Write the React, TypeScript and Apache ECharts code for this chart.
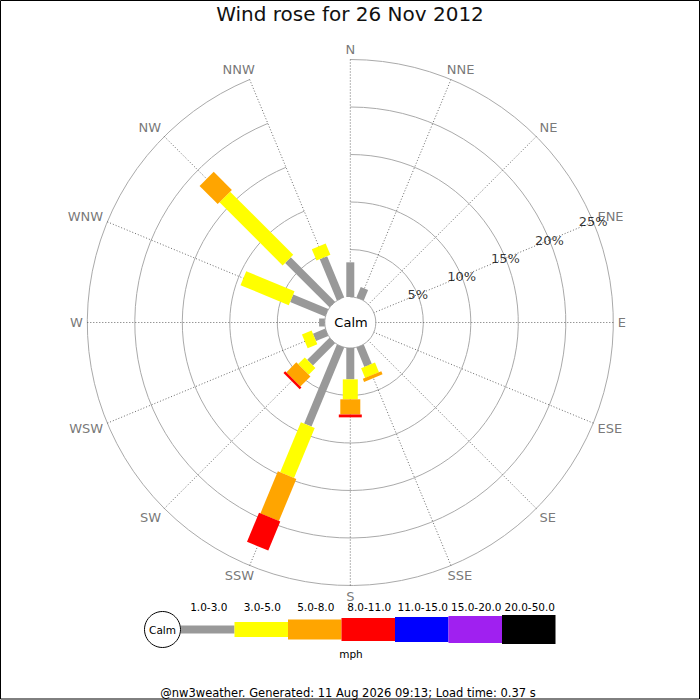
import React, { useEffect, useRef } from 'react';
import * as echarts from 'echarts';

// compass points, clockwise from north
const directions = ['N', 'NNE', 'NE', 'ENE', 'E', 'ESE', 'SE', 'SSE', 'S', 'SSW', 'SW', 'WSW', 'W', 'WNW', 'NW', 'NNW'];

// speed bins (mph)
const speedBins = ['1.0-3.0', '3.0-5.0', '5.0-8.0', '8.0-11.0', '11.0-15.0', '15.0-20.0', '20.0-50.0'];

// % of time per direction, one array per speed bin
const speed1to3 = [3.65, 1.2, 0, 0, 0, 0, 0, 2.2, 3.3, 9.0, 3.3, 1.4, 0.6, 4.0, 6.6, 4.7];
const speed3to5 = [0, 0, 0, 0, 0, 0, 0, 1.1, 2.1, 5.7, 1.0, 1.1, 0, 5.5, 9.4, 1.3];
const speed5to8 = [0, 0, 0, 0, 0, 0, 0, 0.35, 1.6, 4.8, 1.5, 0, 0, 0, 2.7, 0];
const speed8to11 = [0, 0, 0, 0, 0, 0, 0, 0, 0.3, 3.3, 0.25, 0, 0, 0, 0, 0];
const speed11to15 = [0, 0, 0, 0, 0, 0, 0, 0, 0, 0, 0, 0, 0, 0, 0, 0];
const speed15to20 = [0, 0, 0, 0, 0, 0, 0, 0, 0, 0, 0, 0, 0, 0, 0, 0];
const speed20to50 = [0, 0, 0, 0, 0, 0, 0, 0, 0, 0, 0, 0, 0, 0, 0, 0];

const ringTicks = [5, 10, 15, 20, 25];
const ringLabelDir = 'ENE';

const binValues = [speed1to3, speed3to5, speed5to8, speed8to11, speed11to15, speed15to20, speed20to50];
const binColors = ['#999999', '#ffff00', '#ffa500', '#ff0000', '#0000ff', '#a020f0', '#000000'];
const binWidths = [8, 15, 20, 23, 25, 27, 29];

const FONT = 'DejaVu Sans';
const DIR_FONT = 13;

// width of a text in px, for placing the compass labels outside the ring
const textWidth = (text: string, size: number) => {
    const ctx = document.createElement('canvas').getContext('2d');
    if (!ctx) return text.length * size * 0.65;
    ctx.font = `${size}px "${FONT}"`;
    return ctx.measureText(text).width;
};

const clamp1 = (t: number) => Math.max(-1, Math.min(1, t));

const App: React.FC = () => {
    const chartRef = useRef<HTMLDivElement>(null);

    useEffect(() => {
        if (!chartRef.current) return;
        const myChart = echarts.init(chartRef.current, null, { renderer: 'svg' });

        // cumulative start of each bin per direction
        const cum = directions.map(() => 0);
        const barSeries = binValues.map((vals, b) => {
            const data: number[][] = [];
            vals.forEach((v, d) => {
                if (v > 0) data.push([cum[d], d, cum[d] + v]);
                cum[d] += v;
            });
            const w = binWidths[b];
            return {
                type: 'custom',
                name: speedBins[b],
                coordinateSystem: 'polar',
                data,
                renderItem: (params: any, api: any) => {
                    const start = api.value(0);
                    const dir = api.value(1);
                    const end = api.value(2);
                    const cs = params.coordSys;
                    const p0 = api.coord([start, dir]);
                    const p1 = api.coord([end, dir]);
                    let ux = p1[0] - cs.cx;
                    let uy = p1[1] - cs.cy;
                    const len = Math.hypot(ux, uy) || 1;
                    ux /= len;
                    uy /= len;
                    const nx = (-uy * w) / 2;
                    const ny = (ux * w) / 2;
                    return {
                        type: 'polygon',
                        shape: {
                            points: [
                                [p0[0] + nx, p0[1] + ny],
                                [p1[0] + nx, p1[1] + ny],
                                [p1[0] - nx, p1[1] - ny],
                                [p0[0] - nx, p0[1] - ny],
                            ],
                        },
                        style: { fill: binColors[b], stroke: null },
                    };
                },
            };
        });

        // compass labels: sit just outside the outer ring, pushed out by their own size
        const dirLabelData = directions.map((name, i) => {
            const a = (i * 2 * Math.PI) / directions.length;
            const ux = Math.sin(a);
            const uy = -Math.cos(a);
            const hw = textWidth(name, DIR_FONT) / 2;
            const hh = 6;
            return {
                value: [25, i],
                label: {
                    offset: [4.5 * ux + hw * clamp1(1.5 * ux), 4.5 * uy + hh * clamp1(1.5 * uy)],
                },
            };
        });

        // legend along the bottom
        const legendX0 = 181;
        const legendStep = 53.5;
        const legendY = 629.5;
        const legend: any[] = [
            {
                type: 'circle',
                shape: { cx: 162.5, cy: legendY, r: 18 },
                style: { fill: '#fff', stroke: '#000', lineWidth: 1 },
                z: 10,
            },
            {
                type: 'text',
                x: 162.5,
                y: legendY,
                style: { text: 'Calm', align: 'center', verticalAlign: 'middle', fontSize: 10.5, fontFamily: FONT, fill: '#000' },
                z: 11,
            },
            {
                type: 'text',
                x: 351,
                y: 654,
                style: { text: 'mph', align: 'center', verticalAlign: 'middle', fontSize: 10.5, fontFamily: FONT, fill: '#000' },
            },
        ];
        speedBins.forEach((label, i) => {
            const h = binWidths[i];
            legend.push({
                type: 'rect',
                shape: { x: legendX0 + i * legendStep, y: legendY - h / 2, width: legendStep, height: h },
                style: { fill: binColors[i] },
            });
            legend.push({
                type: 'text',
                x: legendX0 + i * legendStep + legendStep / 2 + 1,
                y: 607,
                style: { text: label, align: 'center', verticalAlign: 'middle', fontSize: 10.5, fontFamily: FONT, fill: '#000' },
            });
        });

        const option = {
            animation: false,
            backgroundColor: '#fff',
            title: {
                text: 'Wind rose for 26 Nov 2012',
                left: 'center',
                top: 4,
                padding: 0,
                textStyle: { fontSize: 20, fontWeight: 'normal', color: '#111', fontFamily: FONT },
            },
            polar: {
                center: [350.3, 322.5],
                radius: [25.5, 263],
            },
            angleAxis: {
                type: 'category',
                data: directions,
                boundaryGap: false,
                startAngle: 90,
                clockwise: true,
                axisLine: { show: false },
                axisTick: { show: false },
                axisLabel: { show: false },
                splitLine: { show: true, lineStyle: { color: '#444', width: 0.8, type: [1, 2] } },
            },
            radiusAxis: {
                type: 'value',
                min: 0,
                max: 25,
                interval: 5,
                axisLine: { show: false },
                axisTick: { show: false },
                axisLabel: { show: false },
                splitLine: { show: true, lineStyle: { color: '#aaa', width: 1 } },
            },
            series: [
                ...barSeries,
                {
                    type: 'scatter',
                    coordinateSystem: 'polar',
                    symbolSize: 0,
                    clip: false,
                    silent: true,
                    data: dirLabelData,
                    label: {
                        show: true,
                        position: 'inside',
                        align: 'center',
                        verticalAlign: 'middle',
                        formatter: (p: any) => directions[p.value[1]],
                        color: '#555',
                        fontSize: DIR_FONT,
                        fontFamily: FONT,
                    },
                    z: 5,
                },
                {
                    type: 'scatter',
                    coordinateSystem: 'polar',
                    symbolSize: 0,
                    silent: true,
                    data: ringTicks.map((t) => [t, ringLabelDir]),
                    label: {
                        show: true,
                        position: 'inside',
                        formatter: (p: any) => `${p.value[0]}%`,
                        color: '#000',
                        fontSize: 13,
                        fontFamily: FONT,
                    },
                    z: 6,
                },
            ],
            graphic: [
                {
                    type: 'text',
                    x: 351,
                    y: 322.5,
                    style: { text: 'Calm', align: 'center', verticalAlign: 'middle', fontSize: 13, fontFamily: FONT, fill: '#000' },
                },
                ...legend,
                {
                    type: 'text',
                    x: 348,
                    y: 692.5,
                    style: {
                        text: '@nw3weather. Generated: 11 Aug 2026 09:13; Load time: 0.37 s',
                        align: 'center',
                        verticalAlign: 'middle',
                        fontSize: 11.5,
                        fontFamily: FONT,
                        fill: '#000',
                    },
                },
                {
                    type: 'rect',
                    shape: { x: 0.5, y: 0.5, width: 699, height: 698.5 },
                    style: { fill: null, stroke: '#000', lineWidth: 1 },
                    z: 100,
                },
            ],
        };

        myChart.setOption(option as any);

        return () => {
            myChart.dispose();
        };
    }, []);

    return (
        <div
            ref={chartRef}
            style={{ position: 'absolute', left: 0, top: 0, width: '700px', height: '700px' }}
        />
    );
};

export default App;
